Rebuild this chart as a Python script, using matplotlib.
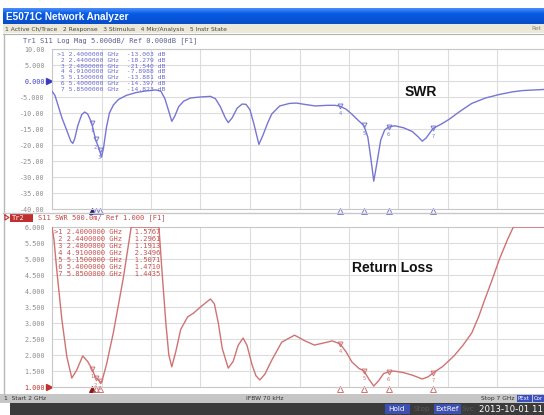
import numpy as np
import matplotlib
matplotlib.use("Agg")
import matplotlib.pyplot as plt
from matplotlib.patches import Rectangle
from matplotlib.lines import Line2D
from matplotlib.transforms import blended_transform_factory

W, H = 544, 415

# trace 1: S11 log mag (dB)
freq_db = [2.00, 2.03, 2.06, 2.10, 2.15, 2.19, 2.21, 2.23, 2.26, 2.30, 2.33, 2.36,
           2.40, 2.44, 2.48, 2.50, 2.52, 2.55, 2.58, 2.62, 2.67, 2.75, 2.85, 2.95,
           3.05, 3.10, 3.14, 3.18, 3.21, 3.24, 3.28, 3.33, 3.40, 3.50, 3.60, 3.65,
           3.70, 3.75, 3.78, 3.82, 3.87, 3.92, 3.96, 4.00, 4.04, 4.09, 4.13, 4.18,
           4.22, 4.30, 4.40, 4.47, 4.55, 4.66, 4.78, 4.86, 4.91, 4.97, 5.03, 5.10,
           5.15, 5.19, 5.22, 5.25, 5.28, 5.32, 5.36, 5.40, 5.46, 5.55, 5.64, 5.70,
           5.74, 5.78, 5.85, 5.93, 6.01, 6.12, 6.24, 6.38, 6.52, 6.65, 6.75, 6.87, 7.00]
s11_db = [-3.2, -4.5, -7.5, -11.5, -15.5, -18.8, -19.5, -18.0, -14.0, -10.5, -9.7, -10.3,
          -13.0, -18.3, -21.5, -23.8, -21.0, -14.5, -10.0, -7.5, -5.8, -4.5, -3.6, -3.1,
          -2.8, -3.2, -5.5, -9.5, -12.6, -11.0, -8.0, -6.3, -5.3, -5.0, -4.8, -5.5,
          -8.0, -11.5, -13.0, -11.5, -8.5, -7.2, -7.3, -9.0, -13.5, -19.8, -17.0, -13.0,
          -10.3, -7.8, -7.0, -6.9, -7.3, -7.8, -7.6, -7.6, -7.9, -8.8, -10.4, -12.5,
          -13.9, -17.5, -24.0, -31.3, -26.0, -18.5, -15.3, -14.4, -14.0, -14.6, -15.8, -17.5,
          -18.8, -17.8, -14.8, -13.5, -12.0, -9.5, -7.0, -5.3, -4.2, -3.4, -3.0, -2.8, -2.6]

# trace 2: S11 SWR (screen clips at 6.0)
freq_swr = [2.00, 2.02, 2.05, 2.10, 2.15, 2.20, 2.25, 2.31, 2.36, 2.40, 2.44, 2.48,
            2.50, 2.55, 2.62, 2.72, 2.80, 3.08, 3.11, 3.15, 3.18, 3.21, 3.25, 3.30,
            3.37, 3.43, 3.50, 3.60, 3.64, 3.68, 3.72, 3.78, 3.83, 3.88, 3.93, 3.97,
            4.02, 4.06, 4.10, 4.15, 4.22, 4.32, 4.45, 4.55, 4.65, 4.75, 4.83, 4.91,
            4.97, 5.03, 5.10, 5.15, 5.20, 5.25, 5.30, 5.35, 5.40, 5.45, 5.55, 5.64,
            5.74, 5.80, 5.85, 5.95, 6.06, 6.15, 6.24, 6.31, 6.37, 6.44, 6.52, 6.60,
            6.66, 7.00]
s11_swr = [6.0, 5.6, 4.6, 3.1, 1.94, 1.28, 1.53, 1.97, 1.8, 1.58, 1.30, 1.19,
           1.13, 1.7, 2.7, 4.4, 6.0, 6.0, 4.66, 3.0, 2.0, 1.63, 2.1, 2.8,
           3.19, 3.31, 3.5, 3.75, 3.6, 3.0, 2.2, 1.59, 1.8, 2.3, 2.53, 2.3,
           1.7, 1.35, 1.22, 1.4, 1.84, 2.4, 2.62, 2.45, 2.31, 2.38, 2.44, 2.35,
           2.1, 1.78, 1.58, 1.51, 1.25, 1.03, 1.2, 1.42, 1.47, 1.50, 1.45, 1.37,
           1.25, 1.32, 1.44, 1.65, 1.97, 2.3, 2.69, 3.2, 3.72, 4.3, 5.0, 5.6,
           6.0, 6.0]

marker_freq = [2.40, 2.44, 2.48, 4.91, 5.15, 5.40, 5.85]
marker_db = [-13.003, -18.279, -21.540, -7.8988, -13.881, -14.397, -14.823]
marker_swr = [1.5767, 1.2961, 1.1913, 2.3496, 1.5071, 1.4710, 1.4435]

db_ticks = [10, 5, 0, -5, -10, -15, -20, -25, -30, -35, -40]
swr_ticks = [6.0, 5.5, 5.0, 4.5, 4.0, 3.5, 3.0, 2.5, 2.0, 1.5, 1.0]

BLUE = '#7676d4'
RED = '#d07272'
MONO = 'DejaVu Sans Mono'


def fx(x):
    return x / W


def fy(y):
    return 1 - y / H


fig = plt.figure(figsize=(W / 100, H / 100), dpi=100)
fig.patch.set_facecolor('white')


def rect(x0, y0, x1, y1, color, z=0):
    fig.patches.append(Rectangle((fx(x0), fy(y1)), (x1 - x0) / W, (y1 - y0) / H,
                                 transform=fig.transFigure, facecolor=color,
                                 edgecolor='none', zorder=z))


def hline(y, x0, x1, color, lw=0.8):
    fig.lines.append(Line2D([fx(x0), fx(x1)], [fy(y), fy(y)], transform=fig.transFigure,
                            color=color, lw=lw))


def vline(x, y0, y1, color, lw=0.8):
    fig.lines.append(Line2D([fx(x), fx(x)], [fy(y0), fy(y1)], transform=fig.transFigure,
                            color=color, lw=lw))


def txt(x, y, s, **kw):
    kw.setdefault('va', 'center')
    kw.setdefault('ha', 'left')
    fig.text(fx(x), fy(y), s, **kw)


# window title bar with a little gradient
tb = fig.add_axes([fx(3), fy(24), (W - 3) / W, 16 / H])
grad = np.linspace(0, 1, 32)[:, None]
top_c = np.array([0.30, 0.55, 0.98])
mid_c = np.array([0.02, 0.36, 0.90])
bot_c = np.array([0.04, 0.30, 0.78])
img = np.where(grad < 0.35, top_c + (mid_c - top_c) * grad / 0.35,
               mid_c + (bot_c - mid_c) * (grad - 0.35) / 0.65)
tb.imshow(np.repeat(img[:, None, :], 4, axis=1).reshape(32, 4, 3), aspect='auto')
tb.axis('off')
txt(6, 16.5, 'E5071C Network Analyzer', color='white', fontsize=7.2,
    fontweight='bold', family='Liberation Sans')

# menu bar
rect(3, 24, W, 33, '#ece9d8')
txt(5, 29, '1 Active Ch/Trace   2 Response   3 Stimulus   4 Mkr/Analysis   5 Instr State',
    fontsize=4.3, color='#444444', family='DejaVu Sans')
txt(531, 29, 'Ret', fontsize=4.3, color='#888888', family='DejaVu Sans')
hline(34, 3, W, '#b0b0b0', 0.8)
vline(3.5, 34, 394, '#b8b8b8', 1.0)
hline(213, 3, W, '#c8c8c8', 1.0)

# status bars
rect(0, 394, W, 403, '#c6c6c6')
rect(10, 403, W, H, '#3b3b3b')
txt(4, 398.5, '1  Start 2 GHz', fontsize=4.3, color='#333333', family='DejaVu Sans')
txt(246, 398.5, 'IFBW 70 kHz', fontsize=4.3, color='#333333', family='DejaVu Sans')
txt(481, 398.5, 'Stop 7 GHz', fontsize=4.3, color='#333333', family='DejaVu Sans')
rect(517, 395, 532, 402, '#3a4fc0', 1)
txt(518, 398.5, 'PExt', fontsize=3.9, color='white', family='DejaVu Sans', zorder=2)
rect(533, 395, W, 402, '#3a4fc0', 1)
txt(534, 398.5, 'Cor', fontsize=3.9, color='white', family='DejaVu Sans', zorder=2)
rect(385, 404, 410, 414, '#3d4fb0', 1)
txt(388, 409, 'Hold', fontsize=5.2, color='white', family='DejaVu Sans', zorder=2)
txt(414, 409, 'Stop', fontsize=5.2, color='#5a5a5a', family='DejaVu Sans')
rect(434, 404, 461, 414, '#3d4fb0', 1)
txt(435, 409, 'ExtRef', fontsize=5.2, color='white', family='DejaVu Sans', zorder=2)
txt(462, 409, 'Svc', fontsize=5.2, color='#5a5a5a', family='DejaVu Sans')
txt(479, 409, '2013-10-01 11:45', fontsize=6.2, color='white', family='DejaVu Sans')


def setup(ax, ticks, lo, hi, ref, ref_color):
    ax.set_xlim(2, 7)
    ax.set_ylim(lo, hi)
    ax.set_xticks(np.linspace(2, 7, 11))
    ax.set_xticklabels([])
    ax.set_yticks(ticks)
    ax.set_yticklabels([format(float(t), '#.4g') for t in ticks],
                       fontfamily=MONO, fontsize=4.9, color='#8c8c8c')
    for t, lab in zip(ticks, ax.get_yticklabels()):
        if t == ref:
            lab.set_color(ref_color)
    ax.tick_params(length=0, pad=5)
    ax.grid(True, color='#dcdcdc', lw=0.8)
    ax.set_axisbelow(True)
    for s in ax.spines.values():
        s.set_color('#c8c8c8')
        s.set_linewidth(0.8)
    tr = blended_transform_factory(ax.transAxes, ax.transData)
    ax.plot([-0.006], [ref], marker='>', ms=4, color=ref_color, transform=tr,
            clip_on=False)


def markers(ax, vals, color, dark):
    ax.plot(marker_freq, vals, linestyle='none', marker='v', ms=3.5,
            mfc='none', mec=color, mew=0.7, zorder=4)
    for i, (f, v) in enumerate(zip(marker_freq, vals)):
        ax.annotate(str(i + 1), (f, v), xytext=(0, -5.5), textcoords='offset points',
                    ha='center', va='center', fontsize=3.8, color=color, family=MONO)
    tr = blended_transform_factory(ax.transData, ax.transAxes)
    for i, f in enumerate(marker_freq):
        ax.plot([f], [-0.013], marker='^', ms=3.8, transform=tr, clip_on=False,
                mfc=dark if i == 0 else 'none', mec=dark if i == 0 else color, mew=0.7)


# top panel: log mag
ax1 = fig.add_axes([fx(52), fy(209), 495 / W, 160 / H])
setup(ax1, db_ticks, -40, 10, 0, '#3c3cc0')
ax1.plot(freq_db, s11_db, color=BLUE, lw=1.0, zorder=3)
markers(ax1, marker_db, BLUE, '#22227a')
txt(23, 41, 'Tr1 S11 Log Mag 5.000dB/ Ref 0.000dB [F1]', fontsize=5.0,
    color='#5c5c98', family=MONO)
for i, (f, v) in enumerate(zip(marker_freq, marker_db)):
    head = '>' if i == 0 else ' '
    row = f"{head}{i + 1} {f:.7f} GHz  {format(v, '#.5g')} dB"
    txt(57, 54.3 + i * 5.85, row, fontsize=4.6, color='#6a6ad0', family=MONO)
txt(405, 92, 'SWR', fontsize=10, fontweight='bold', color='#111111',
    family='Liberation Sans')

# bottom panel: SWR
ax2 = fig.add_axes([fx(52), fy(387), 495 / W, 160 / H])
setup(ax2, swr_ticks, 1.0, 6.0, 1.0, '#c03030')
ax2.plot(freq_swr, s11_swr, color=RED, lw=1.0, zorder=3)
markers(ax2, marker_swr, RED, '#8a1a1a')
fig.lines.append(Line2D([fx(5), fx(9), fx(5), fx(5)], [fy(215), fy(217.5), fy(220), fy(215)],
                        transform=fig.transFigure, color='#c03030', lw=0.8))
rect(10, 213.5, 33, 221.5, '#c03030', 1)
txt(12, 217.5, 'Tr2', fontsize=5.0, color='white', family=MONO, zorder=2)
txt(38, 217.5, 'S11 SWR 500.0m/ Ref 1.000 [F1]', fontsize=5.0, color='#c04848',
    family=MONO)
for i, (f, v) in enumerate(zip(marker_freq, marker_swr)):
    head = '>' if i == 0 else ' '
    row = f"{head}{i + 1} {f:.7f} GHz   {format(v, '#.5g')}"
    txt(54, 232 + i * 7.0, row, fontsize=5.1, color='#c85050', family=MONO)
txt(352, 268, 'Return Loss', fontsize=10, fontweight='bold', color='#111111',
    family='Liberation Sans')

fig.savefig('out.png', dpi=100)
